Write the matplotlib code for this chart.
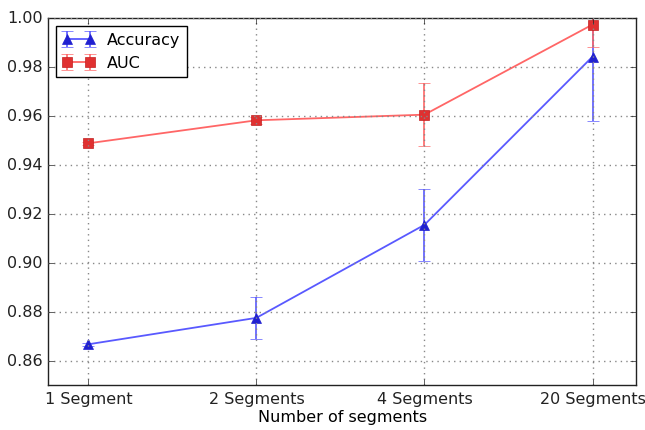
import matplotlib
matplotlib.use("Agg")
import matplotlib.pyplot as plt

plt.style.use('classic')

categories = ["1 Segment", "2 Segments", "4 Segments", "20 Segments"]
acc = [0.8667, 0.8775, 0.9155, 0.9842]
acc_err = [0.0005, 0.0085, 0.0147, 0.0262]
auc = [0.9488, 0.9582, 0.9605, 0.9973]
auc_err = [0.0005, 0.0015, 0.0130, 0.0092]

fig = plt.figure(figsize=(6.45, 4.31), dpi=100, facecolor='white')
ax = fig.add_axes([0.0744, 0.104, 0.912, 0.852])
x = list(range(len(categories)))

ax.errorbar(x, acc, yerr=acc_err, color=(0.35, 0.35, 1.0), marker='^', mfc='#2020d0', mec='#2020d0',
            markersize=7, capsize=4, elinewidth=1.2, lw=1.3, label='Accuracy')
ax.errorbar(x, auc, yerr=auc_err, color=(1.0, 0.4, 0.4), marker='s', mfc='#e03030', mec='#c02020',
            markersize=7, capsize=4, elinewidth=1.2, lw=1.3, label='AUC')

ax.set_xlim(-0.24, 3.26)
ax.set_ylim(0.85, 1.0)
ax.set_yticks([0.86, 0.88, 0.90, 0.92, 0.94, 0.96, 0.98, 1.00])
ax.set_xticks(x)
ax.set_xticklabels(categories)
ax.set_xlabel('Number of segments', fontsize=11.5, labelpad=2)
ax.tick_params(labelsize=11.5, colors='#222222')
for s in ax.spines.values():
    s.set_color('#222222')
ax.grid(True, linestyle=':', color='#888888', linewidth=1)
ax.legend(loc='upper left', numpoints=2, fontsize=11.5, frameon=True, borderaxespad=0.5)
fig.savefig('out.png', dpi=100, facecolor='white')
